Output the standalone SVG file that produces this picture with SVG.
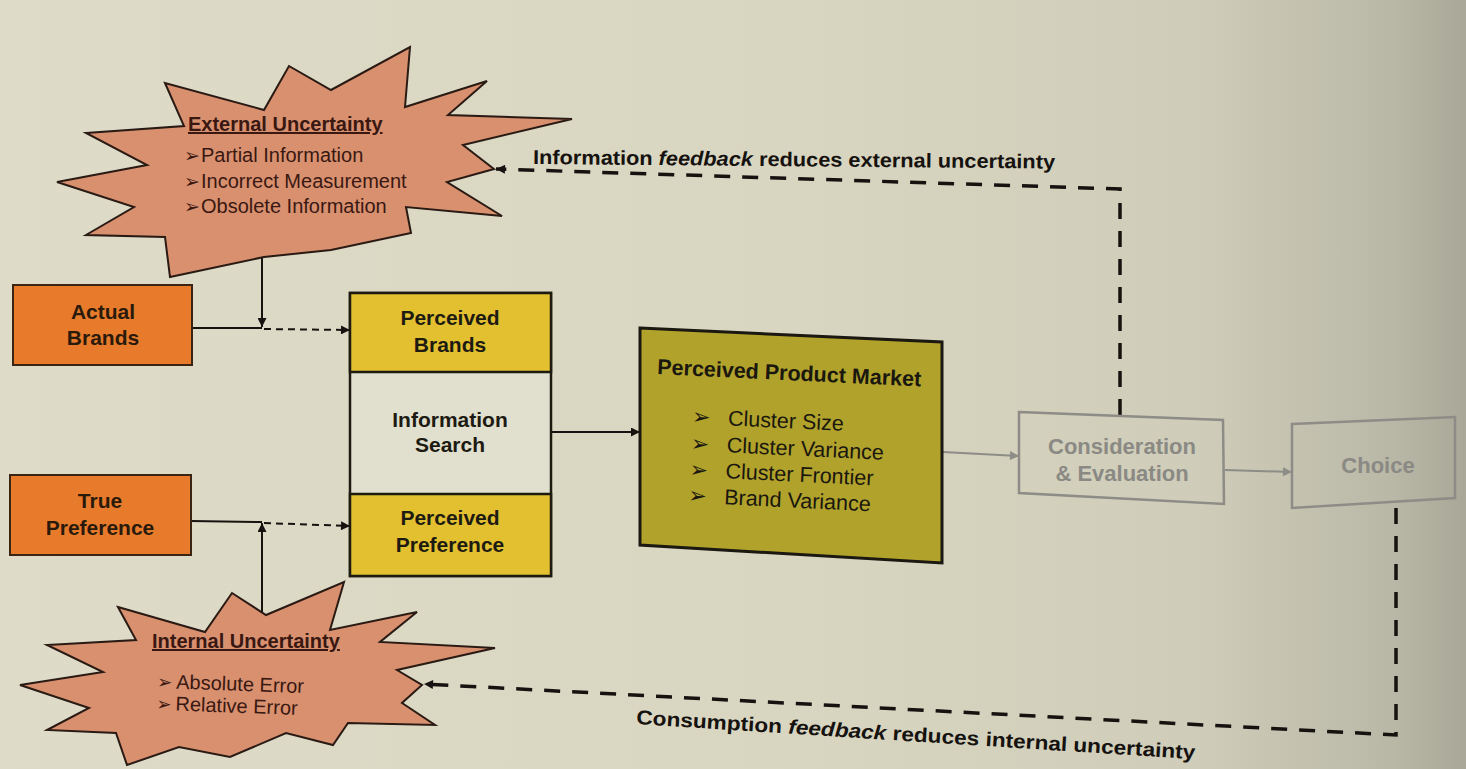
<svg xmlns="http://www.w3.org/2000/svg" width="1466" height="769" viewBox="0 0 1466 769">
  <defs>
    <linearGradient id="page" x1="0" y1="0" x2="1" y2="0">
      <stop offset="0" stop-color="#dedbc8"/>
      <stop offset="0.55" stop-color="#d8d5c0"/>
      <stop offset="0.82" stop-color="#cfcdb9"/>
      <stop offset="0.95" stop-color="#b9b7a6"/>
      <stop offset="1" stop-color="#a9a797"/>
    </linearGradient>
    <marker id="arrow" viewBox="0 0 10 10" refX="10" refY="5" markerWidth="11" markerHeight="9" markerUnits="userSpaceOnUse" orient="auto">
      <path d="M0,0 L10,5 L0,10 z" fill="#161210"/>
    </marker>
    <marker id="arrowGray" viewBox="0 0 10 10" refX="10" refY="5" markerWidth="11" markerHeight="9" markerUnits="userSpaceOnUse" orient="auto">
      <path d="M0,0 L10,5 L0,10 z" fill="#8d8c86"/>
    </marker>
    <style>
      .star { fill: #d8906f; stroke: #2a1a14; stroke-width: 2; stroke-linejoin: miter; }
      .orange { fill: #e87b2b; stroke: #3a2412; stroke-width: 2; }
      .yellow { fill: #e2c02f; stroke: #1d1a10; stroke-width: 2.5; }
      .search { fill: #e1dfcd; stroke: #1d1a10; stroke-width: 2.5; }
      .olive { fill: #b1a22c; stroke: #1a1810; stroke-width: 3; }
      .gray { fill: none; stroke: #8d8c86; stroke-width: 2.5; }
      .solid { fill: none; stroke: #161210; stroke-width: 2; }
      .dashSmall { fill: none; stroke: #161210; stroke-width: 2; stroke-dasharray: 7 5; }
      .dashBig { fill: none; stroke: #161210; stroke-width: 3.5; stroke-dasharray: 16 12; }
      .grayLine { fill: none; stroke: #8d8c86; stroke-width: 2; }
      text { font-family: "Liberation Sans", Arial, sans-serif; }
      .boxLabel { font-size: 21px; font-weight: bold; fill: #2a1a0c; text-anchor: middle; }
      .boxDark { font-size: 21px; font-weight: bold; fill: #1d1a12; text-anchor: middle; }
      .grayLabel { font-size: 22px; font-weight: bold; fill: #8a8984; text-anchor: middle; }
      .starTitle { font-size: 20px; font-weight: bold; fill: #3a1812; text-decoration: underline; }
      .starItem { font-size: 20px; fill: #3a1812; }
      .bullet { font-family: "DejaVu Sans", sans-serif; }
      .ppmTitle { font-size: 21.5px; font-weight: bold; fill: #1a170e; }
      .ppmItem { font-size: 21.5px; fill: #1a170e; }
      .fbLabel { font-size: 20px; font-weight: bold; fill: #15120f; }
    </style>
  </defs>

  <!-- page background -->
  <rect x="0" y="0" width="1466" height="769" fill="url(#page)"/>

  <!-- connectors -->
  <g id="connectors">
    <!-- external uncertainty feeds the brand perception -->
    <line class="solid" x1="262" y1="257" x2="262" y2="327" marker-end="url(#arrow)"/>
    <polyline class="solid" points="192,328 262,328"/>
    <line class="dashSmall" x1="264" y1="329" x2="350" y2="330" marker-end="url(#arrow)"/>
    <!-- internal uncertainty feeds the preference perception -->
    <line class="solid" x1="262" y1="616" x2="262" y2="523" marker-end="url(#arrow)"/>
    <polyline class="solid" points="191,521 262,522"/>
    <line class="dashSmall" x1="264" y1="523" x2="350" y2="526" marker-end="url(#arrow)"/>
    <!-- main flow -->
    <line class="solid" x1="551" y1="432" x2="640" y2="432" marker-end="url(#arrow)"/>
    <line class="grayLine" x1="943" y1="452" x2="1019" y2="456" marker-end="url(#arrowGray)"/>
    <line class="grayLine" x1="1225" y1="470" x2="1292" y2="472" marker-end="url(#arrowGray)"/>
    <!-- information feedback -->
    <polyline class="dashBig" points="1120,415 1120,189 496,169" marker-end="url(#arrow)"/>
    <!-- consumption feedback -->
    <polyline class="dashBig" points="1396,508 1396,735 424,684" marker-end="url(#arrow)"/>
  </g>

  <!-- feedback labels -->
  <g id="feedback-labels">
    <text class="fbLabel" x="533" y="164" transform="rotate(0.5 533 164)" textLength="522" lengthAdjust="spacingAndGlyphs">Information <tspan font-style="italic">feedback</tspan> reduces external uncertainty</text>
    <text class="fbLabel" x="636" y="724" transform="rotate(3.6 636 724)" textLength="560" lengthAdjust="spacingAndGlyphs">Consumption <tspan font-style="italic">feedback</tspan> reduces internal uncertainty</text>
  </g>

  <!-- external uncertainty -->
  <g id="external-uncertainty">
    <polygon class="star" points="165,83 184,126 86,133 147,165 57,182 134,207 86,235 165,237 170,277 264,257 331,250 411,233 406,207 502,216 447,182 494,169 463,145 572,119 448,115 487,81 405,107 410,47 331,90 289,66 264,110"/>
    <text class="starTitle" x="188" y="131">External Uncertainty</text>
    <text class="starItem" x="184" y="162"><tspan class="bullet" font-size="19">➢</tspan><tspan x="201">Partial Information</tspan></text>
    <text class="starItem" x="184" y="188"><tspan class="bullet" font-size="19">➢</tspan><tspan x="201">Incorrect Measurement</tspan></text>
    <text class="starItem" x="184" y="213"><tspan class="bullet" font-size="19">➢</tspan><tspan x="201">Obsolete Information</tspan></text>
  </g>

  <!-- internal uncertainty -->
  <g id="internal-uncertainty">
    <polygon class="star" points="118,607 205,632 232,593 266,615 344,582 330,630 417,612 380,642 495,648 397,670 422,685 402,703 435,725 348,723 333,745 286,733 230,757 179,747 127,765 116,733 47,730 89,708 20,685 103,672 47,645 136,640"/>
    <text class="starTitle" x="152" y="648">Internal Uncertainty</text>
    <g transform="rotate(2 158 688)">
      <text class="starItem" x="157" y="688"><tspan class="bullet" font-size="18">➢</tspan><tspan x="176">Absolute Error</tspan></text>
      <text class="starItem" x="157" y="710"><tspan class="bullet" font-size="18">➢</tspan><tspan x="176">Relative Error</tspan></text>
    </g>
  </g>

  <!-- actual brands -->
  <g id="actual-brands">
    <rect class="orange" x="13" y="285" width="179" height="80"/>
    <text class="boxLabel" x="103" y="319">Actual</text>
    <text class="boxLabel" x="103" y="345">Brands</text>
  </g>

  <!-- true preference -->
  <g id="true-preference">
    <rect class="orange" x="10" y="475" width="181" height="80"/>
    <text class="boxLabel" x="100" y="508">True</text>
    <text class="boxLabel" x="100" y="535">Preference</text>
  </g>

  <!-- perceived brands / information search / perceived preference -->
  <g id="information-search">
    <rect class="search" x="350" y="293" width="201" height="283"/>
    <rect class="yellow" x="350" y="293" width="201" height="79"/>
    <rect class="yellow" x="350" y="494" width="201" height="82"/>
    <text class="boxDark" x="450" y="325">Perceived</text>
    <text class="boxDark" x="450" y="352">Brands</text>
    <text class="boxDark" x="450" y="427">Information</text>
    <text class="boxDark" x="450" y="452">Search</text>
    <text class="boxDark" x="450" y="525">Perceived</text>
    <text class="boxDark" x="450" y="552">Preference</text>
  </g>

  <!-- perceived product market -->
  <g id="perceived-product-market">
    <polygon class="olive" points="640,328 942,342 942,563 640,545"/>
    <g transform="rotate(2.7 657 374)">
      <text class="ppmTitle" x="657" y="374">Perceived Product Market</text>
      <text class="ppmItem" x="694" y="422"><tspan class="bullet" font-size="22">➢</tspan><tspan x="730">Cluster Size</tspan></text>
      <text class="ppmItem" x="694" y="449"><tspan class="bullet" font-size="22">➢</tspan><tspan x="730">Cluster Variance</tspan></text>
      <text class="ppmItem" x="694" y="475"><tspan class="bullet" font-size="22">➢</tspan><tspan x="730">Cluster Frontier</tspan></text>
      <text class="ppmItem" x="694" y="501"><tspan class="bullet" font-size="22">➢</tspan><tspan x="730">Brand Variance</tspan></text>
    </g>
  </g>

  <!-- consideration & evaluation -->
  <g id="consideration">
    <polygon class="gray" points="1019,412 1223,420 1224,504 1019,493"/>
    <text class="grayLabel" x="1122" y="454">Consideration</text>
    <text class="grayLabel" x="1122" y="481">&amp; Evaluation</text>
  </g>

  <!-- choice -->
  <g id="choice">
    <polygon class="gray" points="1292,424 1455,417 1455,498 1292,508"/>
    <text class="grayLabel" x="1378" y="473">Choice</text>
  </g>
</svg>
